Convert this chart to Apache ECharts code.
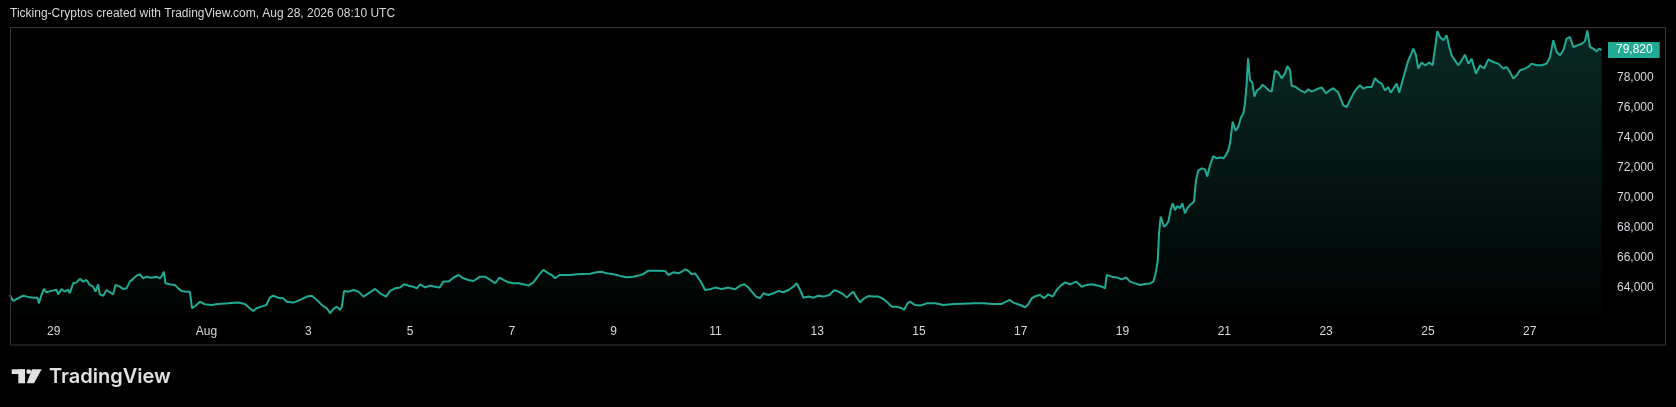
<!DOCTYPE html>
<html><head><meta charset="utf-8">
<script src="https://cdn.jsdelivr.net/npm/echarts@6/dist/echarts.min.js"></script>
<style>html,body{margin:0;padding:0;background:#000;}#c{width:1676px;height:407px;}</style>
</head><body><div id="c"></div>
<script>
// time in days after 29 Jul 00:00 UTC (29 Jul = 0, 1 Aug = 3, 27 Aug = 29)
const days = [
-0.863,-0.798,-0.699,-0.601,-0.503,-0.405,-0.320,-0.293,-0.241,-0.195,-0.143,-0.045,0.054,0.086,0.152,0.217,0.283,0.316,0.381,0.447,
0.512,0.578,0.643,0.709,0.774,0.820,0.872,0.905,0.971,1.036,1.102,1.167,1.213,1.298,1.363,1.429,1.494,1.560,1.625,1.691,
1.756,1.822,1.920,2.018,2.084,2.130,2.162,2.195,2.280,2.379,2.444,2.509,2.608,2.673,2.719,2.804,2.870,2.968,3.099,3.230,
3.426,3.623,3.754,3.852,3.918,3.983,4.081,4.179,4.245,4.310,4.409,4.507,4.579,4.710,4.841,4.972,5.070,5.168,5.267,5.365,
5.430,5.496,5.561,5.627,5.660,5.705,5.791,5.889,5.987,6.085,6.183,6.314,6.413,6.530,6.609,6.707,6.805,6.884,6.969,7.067,
7.133,7.198,7.297,7.395,7.493,7.578,7.657,7.755,7.853,7.951,8.050,8.148,8.246,8.377,8.475,8.574,8.672,8.757,8.836,8.934,
9.032,9.130,9.229,9.327,9.425,9.523,9.621,9.720,9.785,9.851,9.936,10.014,10.145,10.276,10.407,10.538,10.669,10.767,10.866,10.997,
11.128,11.259,11.390,11.488,11.586,11.684,11.848,12.012,12.077,12.175,12.274,12.339,12.405,12.470,12.536,12.601,12.667,12.732,12.797,12.896,
12.994,13.125,13.256,13.387,13.485,13.570,13.649,13.714,13.800,13.878,13.943,14.042,14.140,14.238,14.336,14.435,14.533,14.598,14.664,14.729,
14.827,14.926,15.024,15.122,15.240,15.332,15.417,15.515,15.581,15.646,15.711,15.777,15.843,15.908,16.006,16.104,16.203,16.301,16.399,16.465,
16.563,16.661,16.707,16.773,16.825,16.923,17.022,17.153,17.317,17.480,17.677,17.873,18.070,18.266,18.463,18.626,18.777,18.855,18.986,19.084,
19.150,19.215,19.313,19.379,19.458,19.543,19.628,19.707,19.785,19.870,19.969,20.086,20.198,20.296,20.394,20.545,20.591,20.656,20.689,20.787,
20.885,20.983,21.069,21.147,21.245,21.344,21.442,21.540,21.606,21.651,21.693,21.717,21.750,21.789,21.815,21.855,21.900,21.946,21.985,22.031,
22.077,22.129,22.175,22.227,22.273,22.326,22.404,22.443,22.489,22.555,22.620,22.666,22.719,22.784,22.850,22.928,22.981,23.033,23.079,23.112,
23.164,23.223,23.275,23.321,23.373,23.406,23.439,23.466,23.505,23.551,23.590,23.636,23.701,23.747,23.799,23.865,23.930,23.996,24.061,24.127,
24.192,24.238,24.290,24.323,24.389,24.487,24.585,24.651,24.716,24.814,24.912,24.998,25.076,25.141,25.239,25.338,25.404,25.469,25.535,25.600,
25.666,25.731,25.797,25.895,25.961,26.026,26.092,26.157,26.222,26.268,26.320,26.386,26.438,26.503,26.549,26.615,26.661,26.713,26.766,26.811,
26.877,26.943,27.028,27.093,27.139,27.185,27.237,27.303,27.368,27.420,27.466,27.532,27.597,27.663,27.728,27.794,27.859,27.945,28.023,28.102,
28.187,28.285,28.383,28.481,28.547,28.612,28.678,28.743,28.809,28.907,28.972,29.038,29.136,29.235,29.333,29.399,29.464,29.530,29.595,29.661,
29.726,29.792,29.857,29.936,30.021,30.086,30.132,30.185,30.250,30.316,30.368,30.414
];
const prices = [
63490,63090,63270,63440,63360,63310,63310,62930,63490,63890,63670,63760,63840,63530,63890,63710,63840,63600,64270,64330,
64560,64380,64490,64160,64040,63710,64200,63530,63440,63820,63670,63530,64160,64040,63890,63930,64380,64560,64780,64870,
64600,64710,64640,64710,64600,64780,65040,64270,64200,64160,63930,63760,63710,63710,62600,62820,63040,62870,62820,62890,
62930,62980,62890,62600,62420,62600,62710,62820,63310,63440,63310,63270,63040,62980,63160,63380,63440,63160,62820,62600,
62270,62560,62710,62490,62710,63760,63710,63820,63710,63380,63600,63890,63600,63380,63760,63930,63980,64200,64110,64040,
63930,64200,64000,64110,64040,63980,64380,64380,64640,64820,64600,64490,64420,64710,64710,64490,64270,64640,64490,64330,
64270,64270,64200,64110,64330,64780,65160,64930,64820,64600,64820,64820,64820,64870,64890,64910,65000,65040,64930,64870,
64760,64670,64710,64780,64890,65110,65110,65090,64820,65000,64930,65040,65200,65090,64870,64930,64600,64270,63820,63870,
63980,63890,63980,63870,64110,64200,63980,63710,63380,63270,63600,63490,63600,63760,63670,63820,64040,64270,63820,63310,
63380,63310,63440,63380,63490,63800,63710,63530,63310,63530,63710,63310,63000,63220,63420,63380,63380,63220,62930,62710,
62710,62600,62490,62930,63040,62820,62780,62930,62930,62820,62890,62910,62930,62930,62890,62890,63160,62980,62820,62670,
62870,63270,63440,63490,63270,63530,63380,63820,64110,64330,64200,64380,64040,64160,64200,64090,64040,63930,64820,64710,
64660,64530,64660,64380,64260,64150,64220,64260,64380,64930,65820,67600,68710,68820,68040,68150,68380,69150,69600,69150,
69420,69270,69600,68930,69270,69490,69710,71150,71780,71930,71860,71380,72150,72750,72600,72660,72600,72820,73150,73600,
75040,74440,74710,75270,75600,76270,77600,79270,77820,77640,76710,77110,77270,77490,77380,77150,77040,78440,78310,77930,
78260,78750,78490,77420,77380,77150,76980,77200,77040,77200,77330,76930,77150,77270,76980,76130,76020,76470,76910,77240,
77470,77240,77350,77350,77950,77690,77580,77130,77350,76980,77240,77580,76980,77800,78350,79130,79470,79910,79470,78580,
78980,78800,78980,78800,79910,81070,80690,80470,80800,80020,79470,79130,78800,79130,79510,78910,79240,78240,78800,78580,
79200,79020,78910,78580,78690,78350,77910,78130,78470,78580,78690,78910,78800,78800,78910,79350,80470,79690,79470,79800,
80580,80690,80020,80130,80240,80400,81130,80020,79910,79730,79910,79820
];
const tickDays = [0,3,5,7,9,11,13,15,17,19,21,23,25,27,29];
const tickLabels = ['29','Aug','3','5','7','9','11','13','15','17','19','21','23','25','27'];
const priceTicks = [64000,66000,68000,70000,72000,74000,76000,78000];
const lastPrice = 79820;
const titleText = 'Ticking-Cryptos created with TradingView.com, Aug 28, 2026 08:10 UTC';
const brandText = 'TradingView';

const fmt = v => String(v).replace(/\B(?=(\d{3})+(?!\d))/g, ',');
const FONT = 'Liberation Sans';
const chart = echarts.init(document.getElementById('c'));
chart.setOption({
  backgroundColor: '#000000',
  animation: false,
  grid: {left: 10, right: 72, top: 17.3, bottom: 89.7, containLabel: false},
  xAxis: {
    type: 'value', min: -0.86, max: 30.46,
    axisLine: {show: false}, axisTick: {show: false}, splitLine: {show: false},
    axisLabel: {
      customValues: tickDays, margin: 8, color: '#d6d8de', fontSize: 12, fontFamily: FONT,
      formatter: v => { const i = tickDays.indexOf(Math.round(v)); return i >= 0 ? tickLabels[i] : ''; }
    }
  },
  yAxis: {
    type: 'value', position: 'right', min: 62000, max: 82000, interval: 2000,
    axisLine: {show: false}, axisTick: {show: false}, splitLine: {show: false},
    axisLabel: {
      margin: 13, color: '#d6d8de', fontSize: 12, fontFamily: FONT, align: 'left',
      formatter: v => priceTicks.includes(v) ? fmt(v) : ''
    }
  },
  series: [{
    type: 'line', data: days.map((d, i) => [d, prices[i]]),
    showSymbol: false, symbol: 'none', sampling: 'none',
    lineStyle: {color: '#22ab94', width: 2},
    areaStyle: {color: new echarts.graphic.LinearGradient(0, 0, 0, 1, [
      {offset: 0, color: 'rgba(34,171,148,0.34)'},
      {offset: 1, color: 'rgba(34,171,148,0.02)'}
    ])},
    markLine: {
      silent: true, symbol: 'none', animation: false,
      lineStyle: {color: 'rgba(0,0,0,0)', width: 1},
      data: [{yAxis: lastPrice}],
      label: {
        show: true, position: 'end', distance: 4, formatter: () => fmt(lastPrice),
        backgroundColor: '#22ab94', color: '#ffffff', fontSize: 12, fontFamily: FONT,
        padding: [2, 7, 2, 8]
      }
    }
  }],
  graphic: [
    {type: 'rect', silent: true, z: 100, shape: {x: 10.5, y: 27.5, width: 1655, height: 317.5},
     style: {fill: 'none', stroke: '#363636', lineWidth: 1}},
    {type: 'text', left: 10, top: 8, silent: true,
     style: {text: titleText, fill: '#d9d9d9', font: '12px "Liberation Sans"'}},
    {type: 'group', silent: true, children: [
      {type: 'rect', shape: {x: 11.7, y: 369.3, width: 13.3, height: 4.7}, style: {fill: '#e0e0e0'}},
      {type: 'rect', shape: {x: 18.3, y: 369.3, width: 6.7, height: 14}, style: {fill: '#e0e0e0'}},
      {type: 'circle', shape: {cx: 28.7, cy: 371.7, r: 2.4}, style: {fill: '#e0e0e0'}},
      {type: 'polygon', shape: {points: [[32, 369.3], [41.7, 369.3], [34, 383.3], [26.7, 383.3]]}, style: {fill: '#e0e0e0'}},
      {type: 'text', x: 49, y: 376.5, style: {text: brandText, fill: '#e0e0e0', font: '600 20px Inter', verticalAlign: 'middle'}}
    ]}
  ]
});
</script></body></html>
